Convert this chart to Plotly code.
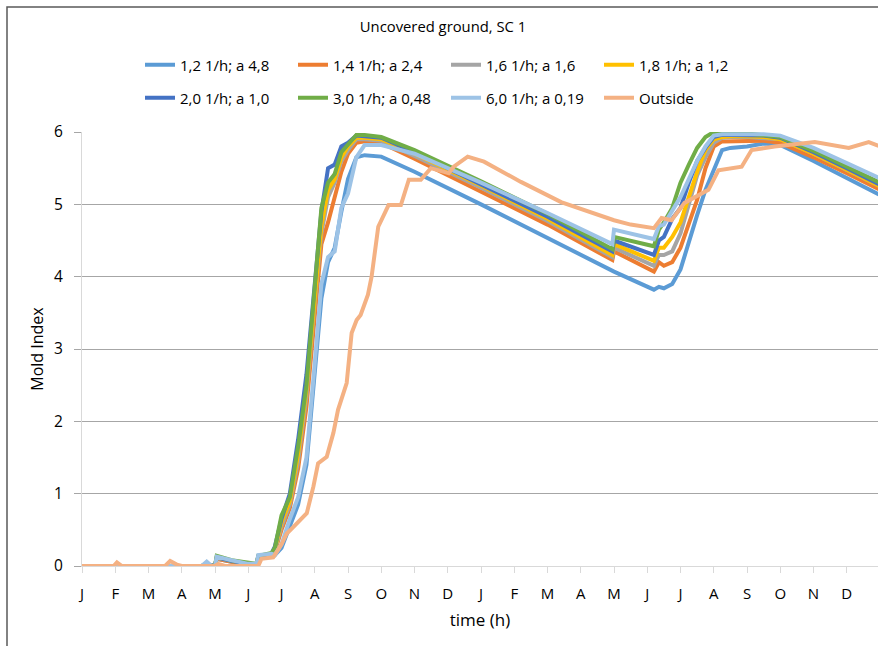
import plotly.graph_objects as go

# time grid (hours) shared by the indoor series
hours = [0, 730, 1460, 2190, 2628, 2738, 2847, 2920, 2957, 3285, 3650, 3833, 3869, 4161,
         4234, 4380, 4563, 4745, 4928, 5110, 5256, 5402, 5548, 5694, 5840, 6023, 6205,
         6570, 7300, 8760, 10220, 11644, 11680, 12556, 12666,
         12775, 12958, 13140, 13323, 13505, 13688, 13870, 14053, 14235,
         14600, 14965, 15330, 16060, 16790, 17520]

s12 = [0, 0, 0, 0, 0, 0.02, 0, 0, 0.1, 0.06, 0.03, 0.02, 0.12, 0.14,
       0.15, 0.25, 0.55, 0.85, 1.4, 2.6, 3.7, 4.2, 4.4, 4.9, 5.35, 5.65, 5.68,
       5.66, 5.45, 5.0, 4.53, 4.07, 4.07, 3.82, 3.86,
       3.84, 3.9, 4.1, 4.5, 4.85, 5.2, 5.47, 5.75, 5.78,
       5.8, 5.84, 5.82, 5.6, 5.37, 5.13]
s14 = [0, 0, 0, 0, 0, 0.01, 0, 0, 0.1, 0.06, 0.03, 0.02, 0.12, 0.15,
       0.2, 0.5, 0.8, 1.35, 2.2, 3.5, 4.45, 4.75, 5.1, 5.45, 5.7, 5.85, 5.87,
       5.85, 5.63, 5.18, 4.72, 4.23, 4.35, 4.07, 4.2,
       4.15, 4.2, 4.4, 4.75, 5.06, 5.5, 5.8, 5.87, 5.87,
       5.88, 5.88, 5.85, 5.65, 5.43, 5.2]
s16 = [0, 0, 0, 0, 0, 0.02, 0, 0, 0.11, 0.07, 0.03, 0.02, 0.13, 0.15,
       0.22, 0.55, 0.85, 1.45, 2.35, 3.65, 4.6, 5.1, 5.3, 5.6, 5.75, 5.9, 5.9,
       5.88, 5.67, 5.23, 4.77, 4.27, 4.4, 4.15, 4.3,
       4.3, 4.35, 4.6, 5.0, 5.4, 5.65, 5.85, 5.92, 5.93,
       5.93, 5.92, 5.9, 5.7, 5.48, 5.25]
s18 = [0, 0, 0, 0, 0, 0.02, 0, 0, 0.12, 0.07, 0.03, 0.02, 0.13, 0.16,
       0.24, 0.6, 0.9, 1.55, 2.45, 3.75, 4.7, 5.2, 5.35, 5.65, 5.8, 5.92, 5.92,
       5.9, 5.7, 5.26, 4.8, 4.3, 4.45, 4.22, 4.4,
       4.4, 4.55, 4.75, 5.1, 5.45, 5.75, 5.9, 5.93, 5.94,
       5.94, 5.93, 5.9, 5.7, 5.48, 5.25]
s20 = [0, 0, 0, 0, 0, 0.02, 0, 0, 0.12, 0.07, 0.03, 0.02, 0.13, 0.17,
       0.27, 0.65, 1.0, 1.75, 2.65, 3.9, 4.9, 5.5, 5.55, 5.8, 5.85, 5.95, 5.94,
       5.92, 5.72, 5.28, 4.83, 4.35, 4.5, 4.3, 4.5,
       4.55, 4.8, 4.95, 5.3, 5.6, 5.78, 5.93, 5.96, 5.96,
       5.96, 5.95, 5.92, 5.72, 5.5, 5.27]
s30 = [0, 0, 0, 0, 0, 0.03, 0, 0, 0.14, 0.08, 0.04, 0.03, 0.14, 0.18,
       0.25, 0.7, 0.95, 1.65, 2.5, 3.85, 4.95, 5.3, 5.42, 5.72, 5.82, 5.96, 5.96,
       5.93, 5.75, 5.32, 4.87, 4.38, 4.55, 4.42, 4.65,
       4.75, 4.95, 5.3, 5.55, 5.78, 5.93, 6.0, 6.0, 6.0,
       5.98, 5.96, 5.93, 5.74, 5.52, 5.3]
s60 = [0, 0, 0, 0, 0, 0.06, 0, 0, 0.13, 0.08, 0.03, 0.03, 0.15, 0.17,
       0.15, 0.3, 0.65, 0.95, 1.5, 2.8, 3.9, 4.27, 4.35, 4.95, 5.15, 5.65, 5.82,
       5.82, 5.7, 5.3, 4.88, 4.45, 4.65, 4.52, 4.7,
       4.72, 4.9, 5.1, 5.35, 5.6, 5.8, 5.95, 5.97, 5.97,
       5.97, 5.97, 5.95, 5.78, 5.57, 5.36]

out_hours = [0, 694, 767, 876, 1825, 1935, 2081, 2190, 2920, 2993,
             3139, 3869, 3942, 4198, 4380, 4497, 4643, 4935, 5081, 5183,
             5373, 5519, 5621, 5811, 5920, 6030, 6117, 6278, 6358, 6504,
             6731, 7001, 7176, 7439, 7658, 8052, 8161, 8468, 8826, 9636,
             10519, 11111, 11680, 12045, 12556, 12724, 12943, 13228, 13753, 13972,
             14483, 14702, 15206, 16089, 16834, 17272, 17520]
outside = [0, 0, 0.05, 0, 0, 0.07, 0.02, 0, 0, 0.03,
           0, 0, 0.1, 0.12, 0.3, 0.45, 0.54, 0.73, 1.1, 1.42,
           1.51, 1.84, 2.16, 2.53, 3.22, 3.4, 3.47, 3.75, 4.0, 4.69,
           4.99, 4.99, 5.34, 5.34, 5.5, 5.43, 5.52, 5.66, 5.59, 5.31,
           5.03, 4.9, 4.78, 4.72, 4.67, 4.81, 4.78, 5.02, 5.2, 5.47,
           5.52, 5.75, 5.8, 5.86, 5.78, 5.86, 5.8]

names = ["1,2 1/h; a 4,8", "1,4 1/h; a 2,4", "1,6 1/h; a 1,6", "1,8 1/h; a 1,2",
         "2,0 1/h; a 1,0", "3,0 1/h; a 0,48", "6,0 1/h; a 0,19", "Outside"]
colors = ["#5B9BD5", "#ED7D31", "#A5A5A5", "#FFC000",
          "#4472C4", "#70AD47", "#9DC3E6", "#F4B183"]

month_labels = ["J", "F", "M", "A", "M", "J", "J", "A", "S", "O", "N", "D"] * 2
month_ticks = [i * 730 for i in range(24)]
y_ticks = [0, 1, 2, 3, 4, 5, 6]

FONT = "Open Sans"
W, H = 878, 646

fig = go.Figure()
series = [(hours, s12), (hours, s14), (hours, s16), (hours, s18),
          (hours, s20), (hours, s30), (hours, s60), (out_hours, outside)]
for i, ((xs, ys), nm, col) in enumerate(zip(series, names, colors)):
    fig.add_trace(go.Scatter(x=xs, y=ys, name=nm, mode="lines",
                             line=dict(color=col, width=4),
                             legend="legend" if i < 4 else "legend2"))

leg_common = dict(orientation="h", xref="container", yref="container",
                  xanchor="left", yanchor="middle", x=140 / W,
                  font=dict(family=FONT, size=15, color="#000000"),
                  entrywidth=108, entrywidthmode="pixels",
                  bgcolor="rgba(0,0,0,0)", itemwidth=30)

fig.update_layout(
    width=W, height=H,
    margin=dict(l=82, r=0, t=132, b=80),
    paper_bgcolor="white", plot_bgcolor="white",
    font=dict(family=FONT, size=15, color="#000000"),
    title=dict(text="Uncovered ground, SC 1", x=443 / W, xref="container", xanchor="center",
               y=1 - 27 / H, yref="container", yanchor="middle",
               font=dict(family=FONT, size=14.8, color="#000000")),
    legend=dict(leg_common, y=1 - 65 / H),
    legend2=dict(leg_common, y=1 - 98 / H),
    xaxis=dict(range=[0, 17476], tickmode="array", tickvals=month_ticks, ticktext=month_labels,
               showgrid=False, zeroline=False, showline=True, linecolor="#d9d9d9", linewidth=1,
               ticks="outside", ticklen=6, tickcolor="#d9d9d9", ticklabelstandoff=8,
               tickfont=dict(family=FONT, size=15, color="#000000"),
               title=dict(text="time (h)", standoff=12, font=dict(family=FONT, size=17, color="#000000"))),
    yaxis=dict(range=[0, 6], tickmode="array", tickvals=y_ticks,
               showgrid=True, gridcolor="#a6a6a6", gridwidth=1, zeroline=False,
               showline=True, linecolor="#d9d9d9", linewidth=1,
               ticks="outside", ticklen=7, tickcolor="#a6a6a6", ticklabelstandoff=8,
               tickfont=dict(family=FONT, size=15.5, color="#000000"),
               title=dict(text="Mold Index", standoff=6, font=dict(family=FONT, size=16, color="#000000"))),
)

# chart-area frame (top/left edges visible in the crop)
fig.add_shape(type="rect", xref="paper", yref="paper",
              x0=(7 - 82) / 796, x1=(890 - 82) / 796,
              y0=(566 - 660) / 434, y1=(566 - 7) / 434,
              line=dict(color="#595959", width=1.5), fillcolor="rgba(0,0,0,0)", layer="below")

fig.write_html("out.html", config={"displayModeBar": False},
               post_script="document.body.style.margin='0';")
